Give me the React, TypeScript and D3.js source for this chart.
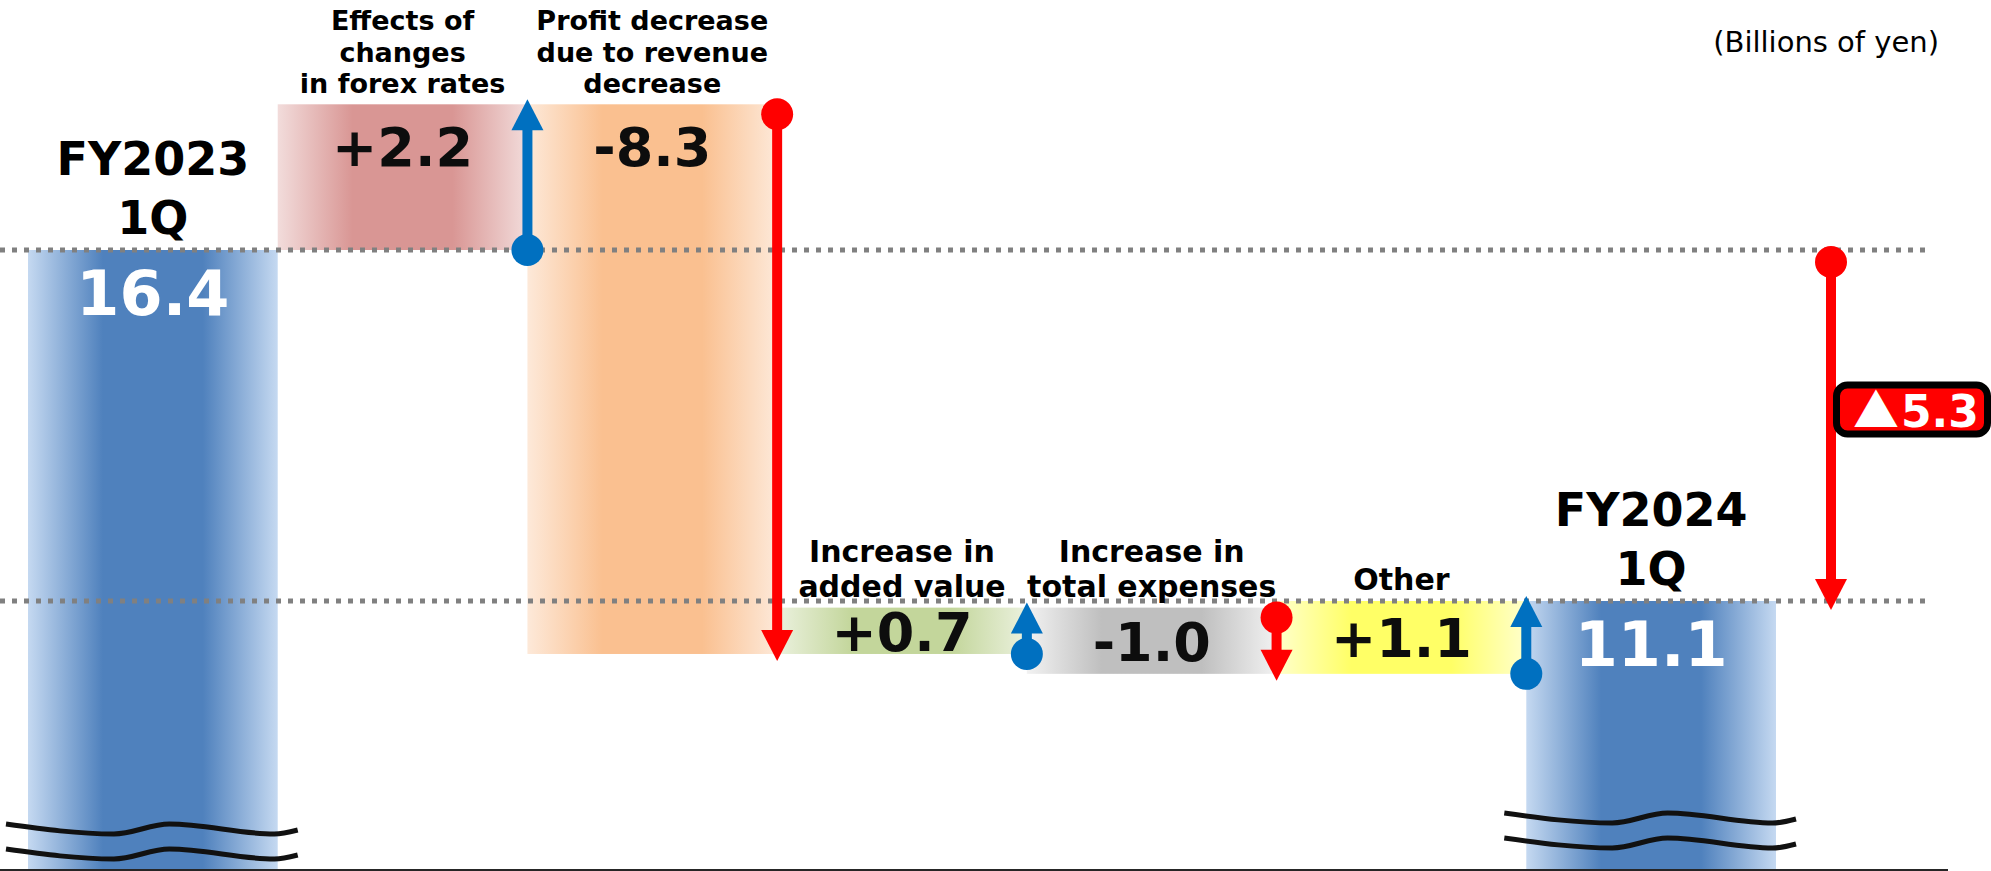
import React from 'react';
import * as d3 from 'd3';

// ---------- data ----------
const categoryLines: string[][] = [
  ['FY2023', '1Q'],
  ['Effects of', 'changes', 'in forex rates'],
  ['Profit decrease', 'due to revenue', 'decrease'],
  ['Increase in', 'added value'],
  ['Increase in', 'total expenses'],
  ['Other'],
  ['FY2024', '1Q'],
];
const values: number[] = [16.4, 2.2, -8.3, 0.7, -1.0, 1.1, 11.1];
const isTotal: boolean[] = [true, false, false, false, false, false, true];
const valueLabels: string[] = ['16.4', '+2.2', '-8.3', '+0.7', '-1.0', '+1.1', '11.1'];
const totalChangeLabel = ['▲', '5.3'];
const unitLabel = '(Billions of yen)';

// ---------- styles ----------
const barDark = ['#4f81bd', '#d99694', '#fac090', '#c3d69b', '#bfbfbf', '#ffff66', '#4f81bd'];
const barLight = ['#c5d9f1', '#f2dcdb', '#fde9d9', '#ebf1de', '#f2f2f2', '#ffffcc', '#c5d9f1'];
const UP = '#0070c0';
const DOWN = '#ff0000';
const FONT = "'DejaVu Sans', Verdana, sans-serif";

const W = 1991;
const H = 871;

function Arrow({ x, y0, y1, color }: { x: number; y0: number; y1: number; color: string }) {
  const dir = Math.sign(y1 - y0);
  const headH = 31;
  const headW = 32;
  const baseY = y1 - dir * headH;
  return (
    <g>
      <line x1={x} x2={x} y1={y0} y2={baseY + dir * 2} stroke={color} strokeWidth={10} />
      <circle cx={x} cy={y0} r={16} fill={color} />
      <path d={`M${x - headW / 2},${baseY} L${x + headW / 2},${baseY} L${x},${y1} Z`} fill={color} />
    </g>
  );
}

export default function App() {
  // running totals
  let running = 0;
  const bars = values.map((v, i) => {
    if (isTotal[i]) {
      running = v;
      return { i, start: v, end: v, total: true };
    }
    const start = running;
    running = +(running + v).toFixed(4);
    return { i, start, end: running, total: false };
  });

  const x = d3.scaleBand<number>().domain(d3.range(values.length)).range([28, 1776]).padding(0);
  const y = d3.scaleLinear().domain([values[values.length - 1], values[0]]).range([601, 250]);
  const bottomY = 870;
  const bw = x.bandwidth();

  const waveLine = d3
    .line<[number, number]>()
    .x((d) => d[0])
    .y((d) => d[1])
    .curve(d3.curveMonotoneX);
  const wavePath = (x0: number, x1: number, yy: number) => {
    const w = x1 - x0;
    const pts: [number, number][] = [
      [x0, yy],
      [x0 + 0.37 * w, yy + 10],
      [x0 + 0.56 * w, yy],
      [x0 + 0.92 * w, yy + 10],
      [x1, yy + 6],
    ];
    return waveLine(pts) || '';
  };
  const breakYs = [824, 813];

  const startTotal = values[0];
  const endTotal = values[values.length - 1];
  const totalArrowX = x.range()[1] + 55;
  const boxCy = (y(startTotal) + y(endTotal)) / 2 - 16;

  return (
    <svg
      width={W}
      height={H}
      style={{ position: 'absolute', left: 0, top: 0, display: 'block', background: '#fff' }}
      fontFamily={FONT}
    >
      <defs>
        {bars.map((b) => (
          <linearGradient key={b.i} id={`g${b.i}`} x1="0" x2="1" y1="0" y2="0">
            <stop offset="0" stopColor={barLight[b.i]} />
            <stop offset="0.3" stopColor={barDark[b.i]} />
            <stop offset="0.7" stopColor={barDark[b.i]} />
            <stop offset="1" stopColor={barLight[b.i]} />
          </linearGradient>
        ))}
      </defs>

      {/* bars */}
      {bars.map((b) => {
        const x0 = x(b.i)!;
        const top = b.total ? y(b.end) : y(Math.max(b.start, b.end));
        const bot = b.total ? bottomY : y(Math.min(b.start, b.end));
        return <rect key={b.i} x={x0} y={top} width={bw} height={bot - top} fill={`url(#g${b.i})`} />;
      })}

      {/* baseline */}
      <line x1={0} x2={1948} y1={bottomY} y2={bottomY} stroke="#262626" strokeWidth={2} />

      {/* reference dotted lines */}
      {[startTotal, endTotal].map((v, k) => (
        <line
          key={k}
          x1={0}
          x2={1930}
          y1={y(v)}
          y2={y(v)}
          stroke="#808080"
          strokeWidth={5}
          strokeDasharray="5 7"
        />
      ))}

      {/* axis break marks */}
      {bars
        .filter((b) => b.total)
        .map((b, k) => {
          const x0 = x(b.i)! - 22;
          const x1 = x(b.i)! + bw + 20;
          return (
            <g key={b.i} fill="none" stroke="#111" strokeWidth={5}>
              <path d={wavePath(x0, x1, breakYs[k])} />
              <path d={wavePath(x0, x1, breakYs[k] + 25)} />
            </g>
          );
        })}

      {/* change arrows */}
      {bars
        .filter((b) => !b.total)
        .map((b) => {
          const up = b.end > b.start;
          const ax = x(b.i)! + bw;
          const y0 = y(b.start) + (up ? 0 : 10);
          const y1 = y(b.end) + (up ? -5 : 7);
          return <Arrow key={b.i} x={ax} y0={y0} y1={y1} color={up ? UP : DOWN} />;
        })}

      {/* total change arrow */}
      <Arrow x={totalArrowX} y0={y(startTotal) + 12} y1={y(endTotal) + 9} color={DOWN} />

      {/* category labels */}
      {bars.map((b) => {
        const lines = categoryLines[b.i];
        const cx = x(b.i)! + bw / 2;
        const top = b.total ? y(b.end) : y(Math.max(b.start, b.end));
        const fs = b.total ? 46 : lines.length >= 3 ? 27 : 30;
        const lh = b.total ? 59 : lines.length >= 3 ? 31.5 : 35;
        const last = b.total ? top - 16 : top - 11;
        return (
          <text key={b.i} textAnchor="middle" fontWeight="bold" fontSize={fs} fill="#000">
            {lines.map((ln, j) => (
              <tspan key={j} x={cx} y={last - (lines.length - 1 - j) * lh}>
                {ln}
              </tspan>
            ))}
          </text>
        );
      })}

      {/* value labels */}
      {bars.map((b) => {
        const cx = x(b.i)! + bw / 2;
        if (b.total) {
          return (
            <text key={b.i} x={cx} y={y(b.end) + 65} textAnchor="middle" fontWeight="bold" fontSize={62} fill="#fff">
              {valueLabels[b.i]}
            </text>
          );
        }
        const top = y(Math.max(b.start, b.end));
        const bot = y(Math.min(b.start, b.end));
        const by = Math.min(top + 62, (top + bot) / 2 + 20);
        return (
          <text key={b.i} x={cx} y={by} textAnchor="middle" fontWeight="bold" fontSize={54} fill="#0d0d0d">
            {valueLabels[b.i]}
          </text>
        );
      })}

      {/* total change box */}
      <rect
        x={totalArrowX + 5.5}
        y={boxCy - 24.5}
        width={151}
        height={49}
        rx={11}
        fill="#ff0000"
        stroke="#000"
        strokeWidth={7}
      />
      <text x={totalArrowX + 22} y={boxCy + 17.5} fontWeight="bold" fontSize={44} fill="#fff">
        <tspan fontFamily="'Noto Sans CJK JP', 'DejaVu Sans', sans-serif" fontWeight="normal" fontSize={46}>
          {totalChangeLabel[0]}
        </tspan>
        <tspan dx={2}>{totalChangeLabel[1]}</tspan>
      </text>

      {/* unit */}
      <text x={1939} y={52} textAnchor="end" fontSize={29} fill="#000">
        {unitLabel}
      </text>
    </svg>
  );
}
